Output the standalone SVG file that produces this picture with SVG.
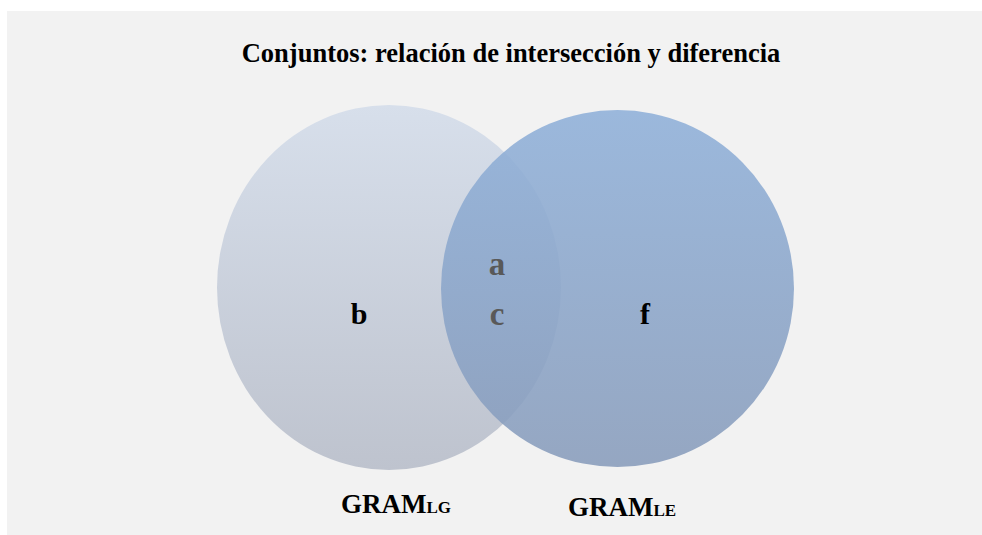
<svg xmlns="http://www.w3.org/2000/svg" width="982" height="535" viewBox="0 0 982 535">
<defs>
<linearGradient id="gL" x1="0" y1="0" x2="0" y2="1"><stop offset="0" stop-color="#d7dfeb"/><stop offset="1" stop-color="#bec3ce"/></linearGradient>
<linearGradient id="gR" x1="0" y1="0" x2="0" y2="1"><stop offset="0" stop-color="#8fb0d9"/><stop offset="1" stop-color="#889cbb"/></linearGradient>
<style>
.t{font-family:"Liberation Serif","Times New Roman",serif;font-weight:bold;fill:#000}
.g{fill:#595959}
</style>
</defs>
<rect x="0" y="0" width="982" height="535" fill="#ffffff"/>
<rect x="7" y="11" width="975" height="524" fill="#f2f2f2"/>
<text class="t" x="511" y="62" font-size="26.5" text-anchor="middle">Conjuntos: relación de intersección y diferencia</text>
<g id="setLG"><ellipse cx="389" cy="287.5" rx="172" ry="182.5" fill="url(#gL)"/></g>
<g id="setLE"><ellipse cx="617.5" cy="288.5" rx="176.5" ry="178.5" fill="url(#gR)" fill-opacity="0.88"/></g>
<g id="connectors"/>
<g id="labels">
<text class="t" x="359" y="324" font-size="30" text-anchor="middle">b</text>
<text class="t g" x="497" y="275" font-size="33" text-anchor="middle">a</text>
<text class="t g" x="497" y="325" font-size="33" text-anchor="middle">c</text>
<text class="t" x="645" y="324" font-size="30" text-anchor="middle">f</text>
<text class="t" x="341" y="513" font-size="27">GRAM<tspan font-size="17">LG</tspan></text>
<text class="t" x="568" y="516" font-size="27">GRAM<tspan font-size="17">LE</tspan></text>
</g>
</svg>
